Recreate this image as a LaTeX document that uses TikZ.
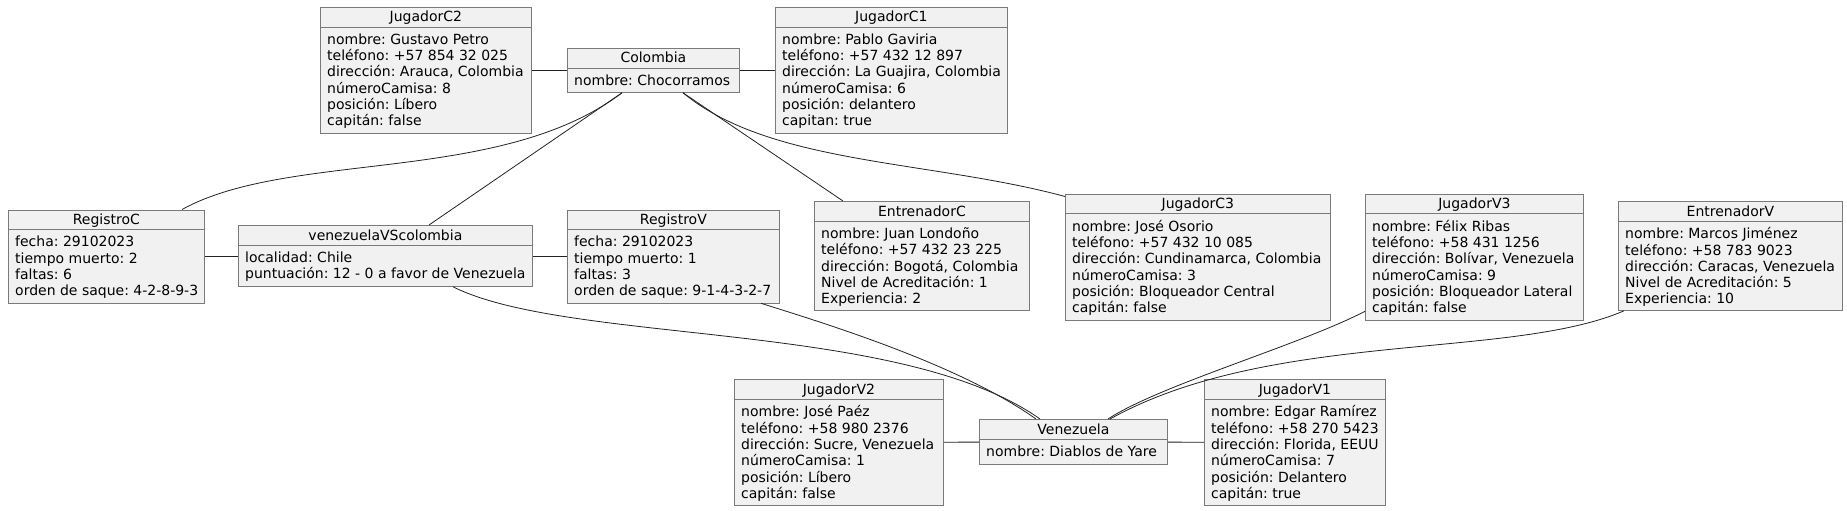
\documentclass[tikz,border=0pt]{standalone}
\usepackage{fontspec}
\setmainfont{DejaVu Sans}
\frenchspacing

\definecolor{objfill}{HTML}{F1F1F1}
\definecolor{objborde}{HTML}{7A7A7A}
\definecolor{linea}{HTML}{222222}

\newcommand{\objfont}{\fontsize{14}{16.3}\selectfont}

\tikzset{
    objbox/.style={draw=objborde, fill=objfill, line width=0.8pt, anchor=north west, inner sep=0pt},
    objtitle/.style={anchor=base, inner sep=0pt, font=\objfont},
    objbody/.style={anchor=north west, align=left, inner xsep=7pt, inner ysep=6.4pt, font=\objfont},
    objline/.style={draw=objborde, line width=0.8pt},
    enlace/.style={draw=linea, line width=0.8pt},
}

% caja de objeto: nombre, x, y, ancho, alto, titulo, atributos
\newcommand{\objeto}[7]{%
    \node[objbox, minimum width=#4pt, minimum height=#5pt] (#1) at (#2,#3) {};
    \node[objtitle] (#1-t) at ([yshift=-15pt]#1.north) {#6};
    \draw[objline] ([yshift=-20pt]#1.north west) -- ([yshift=-20pt]#1.north east);
    \node[objbody] (#1-b) at ([yshift=-20pt]#1.north west) {#7};
}

\begin{document}
\begin{tikzpicture}[x=1pt, y=-1pt]
            \useasboundingbox (0,0) rectangle (1847,511);

            \objeto{jugadorC2}{320}{7}{211}{126}{JugadorC2}{nombre: Gustavo Petro\\teléfono: +57 854 32 025\\dirección: Arauca, Colombia\\númeroCamisa: 8\\posición: Líbero\\capitán: false}
            \objeto{colombia}{567}{48}{172}{44}{Colombia}{nombre: Chocorramos}
            \objeto{jugadorC1}{775}{7}{232}{126}{JugadorC1}{nombre: Pablo Gaviria\\teléfono: +57 432 12 897\\dirección: La Guajira, Colombia\\númeroCamisa: 6\\posición: delantero\\capitan: true}

            \objeto{registroC}{8}{209.5}{196}{93}{RegistroC}{fecha: 29102023\\tiempo muerto: 2\\faltas: 6\\orden de saque: 4-2-8-9-3}
            \objeto{partido}{238}{225}{294}{61}{venezuelaVScolombia}{localidad: Chile\\puntuación: 12 - 0 a favor de Venezuela}
            \objeto{registroV}{567}{209.5}{212}{93}{RegistroV}{fecha: 29102023\\tiempo muerto: 1\\faltas: 3\\orden de saque: 9-1-4-3-2-7}
            \objeto{entrenadorC}{814}{201}{215}{109}{EntrenadorC}{nombre: Juan Londoño\\teléfono: +57 432 23 225\\dirección: Bogotá, Colombia\\Nivel de Acreditación: 1\\Experiencia: 2}
            \objeto{jugadorC3}{1065}{193.5}{265}{126}{JugadorC3}{nombre: José Osorio\\teléfono: +57 432 10 085\\dirección: Cundinamarca, Colombia\\númeroCamisa: 3\\posición: Bloqueador Central\\capitán: false}
            \objeto{jugadorV3}{1365}{193.5}{218}{126}{JugadorV3}{nombre: Félix Ribas\\teléfono: +58 431 1256\\dirección: Bolívar, Venezuela\\númeroCamisa: 9\\posición: Bloqueador Lateral\\capitán: false}
            \objeto{entrenadorV}{1618}{201}{224}{109}{EntrenadorV}{nombre: Marcos Jiménez\\teléfono: +58 783 9023\\dirección: Caracas, Venezuela\\Nivel de Acreditación: 5\\Experiencia: 10}

            \objeto{jugadorV2}{734}{379}{209}{126}{JugadorV2}{nombre: José Paéz\\teléfono: +58 980 2376\\dirección: Sucre, Venezuela\\númeroCamisa: 1\\posición: Líbero\\capitán: false}
            \objeto{venezuela}{979}{419}{188}{45}{Venezuela}{nombre: Diablos de Yare}
            \objeto{jugadorV1}{1204}{379}{181}{126}{JugadorV1}{nombre: Edgar Ramírez\\teléfono: +58 270 5423\\dirección: Florida, EEUU\\númeroCamisa: 7\\posición: Delantero\\capitán: true}

            % enlaces
            \draw[enlace] (jugadorC2) -- (colombia);
            \draw[enlace] (colombia) -- (jugadorC1);
            \draw[enlace] (partido.west -| registroC.east) -- (partido.west);
            \draw[enlace] (partido.east) -- (partido.east -| registroV.west);
            \draw[enlace] (jugadorV2) -- (venezuela);
            \draw[enlace] (venezuela) -- (jugadorV1);

            \draw[enlace] ([xshift=55pt]colombia.south west) .. controls (500,185) and (290,150) .. ([xshift=174pt]registroC.north west);
            \draw[enlace] ([xshift=55pt]colombia.south west) -- ([xshift=191pt]partido.north west);
            \draw[enlace] ([xshift=116pt]colombia.south west) -- ([xshift=29pt]entrenadorC.north west);
            \draw[enlace] ([xshift=116pt]colombia.south west) .. controls (770,165) and (930,160) .. ([yshift=-3pt]jugadorC3.north west);

            \draw[enlace] ([xshift=215pt]partido.south west) .. controls (570,345) and (900,320) .. ([xshift=61pt]venezuela.north west);
            \draw[enlace] ([xshift=194pt]registroV.south west) .. controls (830,325) and (960,365) .. ([xshift=57pt]venezuela.north west);
            \draw[enlace] ([yshift=9pt]jugadorV3.south west) .. controls (1300,345) and (1160,385) .. ([xshift=129pt]venezuela.north west);
            \draw[enlace] ([xshift=6pt]entrenadorV.south west) .. controls (1510,360) and (1270,330) .. ([xshift=131pt]venezuela.north west);
        \end{tikzpicture}
\end{document}
